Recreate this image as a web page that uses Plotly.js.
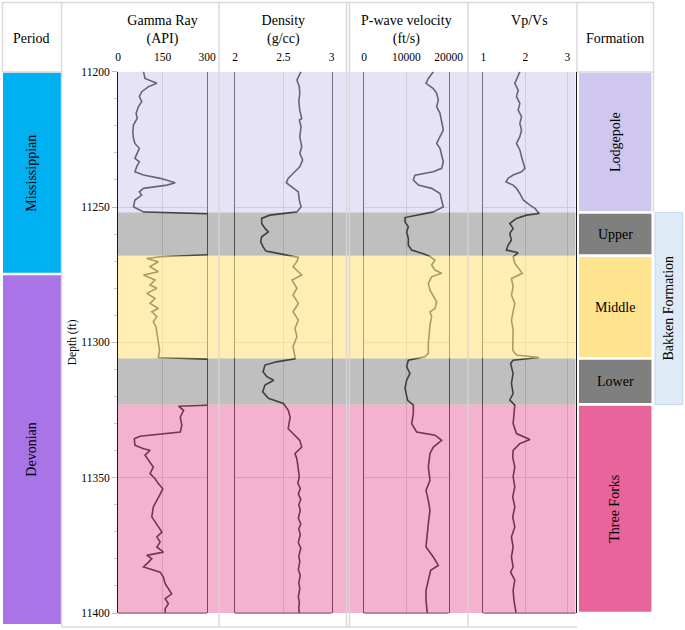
<!DOCTYPE html>
<html><head><meta charset="utf-8">
<script src="https://cdn.plot.ly/plotly-3.0.1.min.js"></script>
<style>html,body{margin:0;padding:0;background:#fff;}#chart{width:685px;height:630px;}</style>
</head><body><div id="chart"></div>
<script>
// ---------------- DATA ----------------
const grDepth = [11200, 11202.5, 11204.3, 11205.5, 11207.4, 11209.2, 11211.1, 11212.9, 11215.4, 11217.2, 11219.7, 11222.2, 11224.6, 11226.5, 11228.3, 11230.2, 11232, 11233.3, 11235.1, 11237, 11238.2, 11239.4, 11241, 11241.9, 11243.1, 11244.4, 11245.6, 11247.4, 11249.9, 11251.8, 11252.6, 11260, 11267.5, 11268.4, 11269, 11270.2, 11272, 11273.9, 11275.1, 11277, 11278.8, 11280, 11281.9, 11283.8, 11285.6, 11287.5, 11288.7, 11290.5, 11292.4, 11294.2, 11296.7, 11299.2, 11302.9, 11305.6, 11306.3, 11315, 11323.1, 11323.6, 11325.1, 11327.6, 11330.6, 11333.1, 11333.7, 11334.7, 11335.6, 11338, 11339.3, 11339.9, 11341.7, 11343.6, 11346.1, 11348.5, 11350.4, 11352.2, 11354.1, 11356.5, 11358.4, 11360.8, 11364.5, 11368.2, 11370.1, 11371.9, 11373.8, 11375.6, 11377.5, 11378.7, 11379.9, 11381.2, 11383, 11384.9, 11386.7, 11389.2, 11391, 11392.9, 11394.7, 11396.6, 11398.4, 11400];
const grValues = [86, 91, 131, 103, 80, 72, 80, 69, 61, 65, 52, 50, 52, 57, 72, 63, 57, 72, 63, 57, 86, 142, 193, 165, 86, 72, 80, 57, 52, 86, 330, 330, 330, 142, 97, 136, 108, 136, 86, 125, 108, 131, 97, 125, 108, 136, 114, 131, 119, 128, 131, 133, 140, 136, 330, 330, 330, 204, 221, 210, 215, 210, 165, 74, 55, 57, 86, 108, 91, 103, 119, 108, 125, 136, 151, 140, 131, 119, 114, 136, 148, 131, 142, 131, 153, 97, 114, 103, 86, 142, 153, 159, 170, 181, 159, 170, 159, 159];

const rhoDepth = [11200, 11203.1, 11205.5, 11208, 11211, 11214.2, 11217.3, 11217.9, 11220.3, 11224, 11227.7, 11230.2, 11232.6, 11235.1, 11237.6, 11239.4, 11241, 11242.5, 11244.4, 11247.4, 11249.9, 11251.8, 11253, 11254.2, 11256.1, 11257.9, 11259.2, 11261, 11262.8, 11264.7, 11266.3, 11267.3, 11268.6, 11270.2, 11272, 11275.1, 11277, 11280, 11282.5, 11285.6, 11288.7, 11291.8, 11294.9, 11297.9, 11301.6, 11305.3, 11306.1, 11307.2, 11308.4, 11310.9, 11312.7, 11314, 11315.8, 11318.3, 11320.7, 11322.6, 11325, 11327.6, 11331.9, 11333.7, 11336.2, 11338.7, 11341.1, 11343, 11346.1, 11349.7, 11352, 11354, 11356, 11358, 11360, 11362, 11365, 11367, 11369, 11371, 11374, 11376, 11379, 11381, 11384, 11386, 11389, 11391, 11394, 11396, 11398, 11400];
const rhoValues = [2.683, 2.64, 2.665, 2.67, 2.66, 2.67, 2.69, 2.665, 2.683, 2.67, 2.69, 2.67, 2.70, 2.67, 2.60, 2.55, 2.53, 2.59, 2.655, 2.665, 2.683, 2.64, 2.36, 2.276, 2.276, 2.31, 2.345, 2.276, 2.266, 2.29, 2.32, 2.47, 2.655, 2.64, 2.60, 2.69, 2.59, 2.64, 2.60, 2.655, 2.60, 2.655, 2.62, 2.64, 2.60, 2.62, 2.62, 2.43, 2.31, 2.29, 2.33, 2.40, 2.31, 2.286, 2.345, 2.50, 2.55, 2.57, 2.55, 2.60, 2.67, 2.69, 2.62, 2.64, 2.655, 2.665, 2.65, 2.675, 2.655, 2.68, 2.66, 2.675, 2.655, 2.68, 2.66, 2.675, 2.655, 2.68, 2.66, 2.67, 2.655, 2.675, 2.66, 2.67, 2.655, 2.665, 2.66, 2.665];

const vpDepth = [11200, 11202.5, 11204.3, 11206.2, 11208, 11210.5, 11212.9, 11215.4, 11218.5, 11221.6, 11224, 11226.5, 11228.3, 11230.8, 11233.3, 11235.7, 11237, 11238.2, 11240, 11241.9, 11243.1, 11245, 11247.4, 11249.9, 11251.8, 11253, 11253.9, 11255.5, 11257.3, 11259.2, 11261.6, 11264.1, 11265.9, 11267.3, 11268.3, 11269.6, 11271.4, 11273.3, 11274.5, 11275.8, 11278.2, 11280.7, 11283.1, 11285, 11287.5, 11288.7, 11290.5, 11293.6, 11296.7, 11300.4, 11304.1, 11305.3, 11306.6, 11309, 11311.5, 11314, 11317, 11320.1, 11321.4, 11322.6, 11323.2, 11326.3, 11330, 11333.1, 11334.3, 11336.2, 11338.7, 11341.1, 11346.1, 11351, 11354.7, 11358.4, 11362.1, 11367, 11371.9, 11375.6, 11379.3, 11382.4, 11384.2, 11387.9, 11391.6, 11395.3, 11400];
const vpValues = [16370, 15190, 14640, 16370, 17155, 17550, 17155, 17940, 18340, 18730, 17940, 17155, 17940, 18340, 18730, 18340, 16370, 12040, 11650, 12830, 15975, 17940, 18340, 18730, 16370, 12430, 9680, 9680, 10470, 10070, 10470, 10470, 11250, 14000, 15600, 16760, 15975, 16760, 18340, 15975, 15190, 15580, 16370, 17155, 16760, 15580, 15975, 15580, 15420, 15190, 15190, 14400, 10470, 10070, 10860, 10070, 9680, 10070, 10300, 11250, 11650, 11650, 11254, 12430, 16760, 18340, 16370, 15580, 15190, 15580, 14640, 15190, 15580, 15190, 14950, 14640, 16370, 17550, 15740, 15190, 14640, 14640, 14950];

const vpvsDepth = [11200, 11202.5, 11204.3, 11206.8, 11209.2, 11211.7, 11214.2, 11216.6, 11219.1, 11221.6, 11224, 11226.5, 11228.9, 11231.4, 11233.9, 11235.7, 11237, 11238.2, 11239.4, 11240.7, 11241.9, 11243.1, 11245, 11247.4, 11249.3, 11250.5, 11252.4, 11253, 11254.2, 11256.1, 11257.9, 11259.8, 11262.2, 11264.1, 11265.9, 11266.9, 11268.4, 11270.8, 11274.5, 11276.4, 11279.5, 11282.5, 11285.6, 11288.7, 11291.8, 11295.5, 11299.2, 11302.9, 11304.7, 11305.6, 11306.6, 11307.8, 11311.5, 11315.2, 11318.9, 11321.3, 11323.2, 11326.3, 11330, 11333.7, 11335.9, 11337.4, 11339.9, 11342.4, 11346.1, 11349.7, 11353.4, 11357.1, 11360.8, 11364.5, 11368.2, 11371.9, 11375.6, 11379.3, 11383, 11384.9, 11387.9, 11391.6, 11395.3, 11400];
const vpvsValues = [1.87, 1.79, 1.75, 1.83, 1.79, 1.87, 1.83, 1.91, 1.87, 1.91, 1.87, 1.79, 1.87, 1.91, 1.95, 1.99, 1.91, 1.71, 1.59, 1.54, 1.71, 1.79, 1.87, 1.95, 2.11, 2.23, 2.33, 2.03, 1.79, 1.63, 1.71, 1.63, 1.67, 1.59, 1.55, 1.83, 1.71, 1.75, 1.93, 1.67, 1.71, 1.67, 1.75, 1.71, 1.67, 1.71, 1.70, 1.70, 1.79, 2.33, 1.71, 1.65, 1.71, 1.67, 1.71, 1.63, 1.75, 1.73, 1.71, 1.79, 2.11, 1.87, 1.71, 1.70, 1.75, 1.71, 1.75, 1.70, 1.75, 1.70, 1.75, 1.67, 1.71, 1.67, 1.71, 1.65, 1.75, 1.71, 1.73, 1.78];

const trackTitles = ['Gamma Ray<br>(API)', 'Density<br>(g/cc)', 'P-wave velocity<br>(ft/s)', 'Vp/Vs'];
const grTicks = [0, 150, 300];
const rhoTicks = [2, 2.5, 3];
const vpTicks = [0, 10000, 20000];
const vpvsTicks = [1, 2, 3];
const depthTicks = [11200, 11250, 11300, 11350, 11400];

const formationNames = ['Lodgepole', 'Upper', 'Middle', 'Lower', 'Three Forks'];
const formationTops = [11200, 11252, 11268, 11306, 11323];
const formationBases = [11252, 11268, 11306, 11323, 11400];
const bakkenName = 'Bakken Formation';
const periodNames = ['Mississippian', 'Devonian'];

// ---------------- STYLE / LAYOUT ----------------
const W = 685, H = 630;
const PX = x => x / W, PY = y => 1 - y / H;
const serif = '"Liberation Serif", "Times New Roman", Times, serif';
const formationColors = ['#CFC7EE', '#7F7F7F', '#FFE48F', '#7F7F7F', '#E8659B'];
const bandOpacity = [0.5, 0.5, 0.68, 0.5, 0.5];
const formationRotate = [-90, 0, 0, 0, -90];
const periodColors = ['#00B0F0', '#A874E6'];
const periodPix = [[72.7, 272.7], [275.3, 624]];

const trackPix = [[118, 207], [235, 331.7], [364, 448.7], [483.3, 575.5]];
const ranges = [[0, 300], [2, 3], [0, 20000], [1, 3.195]];
const ticksets = [grTicks, rhoTicks, vpTicks, vpvsTicks];
const titleStandoff = [4, 4, 4, 22];
const yDomain = [PY(613), PY(71.7)];

const curveLine = {color: '#000', width: 1.6};
const series = [[grValues, grDepth, 'Gamma Ray'], [rhoValues, rhoDepth, 'Density'], [vpValues, vpDepth, 'P-wave velocity'], [vpvsValues, vpvsDepth, 'Vp/Vs']];
const traces = series.map((s, i) => ({
  type: 'scatter', mode: 'lines', x: s[0], y: s[1], name: s[2],
  xaxis: i ? 'x' + (i + 1) : 'x', yaxis: i ? 'y' + (i + 1) : 'y',
  line: curveLine, hoverinfo: 'skip', showlegend: false
}));

const layout = {
  width: W, height: H, margin: {l: 0, r: 0, t: 0, b: 0},
  paper_bgcolor: '#fff', plot_bgcolor: 'rgba(0,0,0,0)',
  font: {family: serif, color: '#000', size: 12},
  showlegend: false, shapes: [], annotations: []
};

trackPix.forEach((p, i) => {
  const xs = i ? 'xaxis' + (i + 1) : 'xaxis';
  const ys = i ? 'yaxis' + (i + 1) : 'yaxis';
  layout[xs] = {
    domain: [PX(p[0]), PX(p[1])], range: ranges[i], anchor: i ? 'y' + (i + 1) : 'y',
    side: 'top', tickmode: 'array', tickvals: ticksets[i], ticktext: ticksets[i].map(String),
    ticks: '', ticklabelstandoff: 7, showline: false, zeroline: false, showgrid: true, gridcolor: '#d0d0d0', gridwidth: 1,
    tickfont: {family: serif, size: 11.5, color: '#000'},
    title: {text: trackTitles[i], font: {family: serif, size: 14, color: '#000'}, standoff: titleStandoff[i]},
    fixedrange: true
  };
  const ya = {
    domain: yDomain, range: [11400, 11200], anchor: i ? 'x' + (i + 1) : 'x',
    showline: true, mirror: true, linecolor: '#1a1a1a', linewidth: 1,
    showgrid: true, gridcolor: '#d0d0d0', zeroline: false, fixedrange: true,
    tickmode: 'array', tickvals: depthTicks, ticktext: depthTicks.map(String)
  };
  if (i === 0) {
    Object.assign(ya, {
      ticks: 'outside', ticklen: 5, tickcolor: '#bdbdbd', tickwidth: 1,
      tickfont: {family: serif, size: 11.5, color: '#000'},
      minor: {tickmode: 'linear', tick0: 11200, dtick: 10, ticks: 'outside', ticklen: 3, tickcolor: '#c8c8c8', showgrid: false},
      title: {text: 'Depth (ft)', font: {family: serif, size: 11.5, color: '#000'}, standoff: 2}
    });
  } else {
    Object.assign(ya, {matches: 'y', showticklabels: false, ticks: ''});
  }
  layout[ys] = ya;
  layout.shapes.push({type: 'line', layer: 'above', xref: (i ? 'x' + (i + 1) : 'x') + ' domain', x0: 0, x1: 1,
    yref: 'paper', y0: yDomain[0], y1: yDomain[0], line: {color: '#333', width: 1}});
});

// translucent formation bands across the log tracks
formationNames.forEach((n, i) => {
  layout.shapes.push({type: 'rect', layer: 'above', xref: 'paper', x0: PX(118), x1: PX(575.5),
    yref: 'y', y0: formationTops[i], y1: formationBases[i], fillcolor: formationColors[i], opacity: bandOpacity[i], line: {width: 0}});
});

// table grid lines
const gridCol = 'rgba(214,214,214,0.9)';
const vLines = [[2.5, 2, 72], [61.5, 2, 627], [219, 2, 627], [346.5, 2, 627], [349.5, 2, 627], [468, 2, 627], [577, 2, 72], [653.5, 2, 212]];
const hLines = [[2.5, 2.5, 654], [72, 2.5, 61.5], [72, 577, 653.5], [627, 61.5, 577]];
vLines.forEach(v => layout.shapes.push({type: 'line', layer: 'above', xref: 'paper', yref: 'paper', x0: PX(v[0]), x1: PX(v[0]), y0: PY(v[1]), y1: PY(v[2]), line: {color: gridCol, width: 1.5}}));
hLines.forEach(h => layout.shapes.push({type: 'line', layer: 'above', xref: 'paper', yref: 'paper', x0: PX(h[1]), x1: PX(h[2]), y0: PY(h[0]), y1: PY(h[0]), line: {color: gridCol, width: 1.5}}));

// period column
periodNames.forEach((n, i) => {
  const r = periodPix[i];
  layout.shapes.push({type: 'rect', layer: 'below', xref: 'paper', yref: 'paper', x0: PX(3), x1: PX(61), y0: PY(r[1]), y1: PY(r[0]), fillcolor: periodColors[i], line: {width: 0}});
  layout.annotations.push({text: n, xref: 'paper', yref: 'paper', x: PX(32), y: PY((r[0] + r[1]) / 2), showarrow: false, textangle: -90, font: {family: serif, size: 14, color: '#000'}, xanchor: 'center', yanchor: 'middle'});
});

// formation column
formationNames.forEach((n, i) => {
  layout.shapes.push({type: 'rect', layer: 'below', xref: 'paper', x0: PX(577.7), x1: PX(652.7), yref: 'y', y0: formationTops[i], y1: formationBases[i], fillcolor: formationColors[i], line: {color: '#fff', width: 2.5}});
  layout.annotations.push({text: n, xref: 'paper', x: PX(615), yref: 'y', y: (formationTops[i] + formationBases[i]) / 2, showarrow: false, textangle: formationRotate[i], font: {family: serif, size: 14, color: '#000'}, xanchor: 'center', yanchor: 'middle'});
});
layout.shapes.push({type: 'rect', layer: 'below', xref: 'paper', x0: PX(655), x1: PX(682.7), yref: 'y', y0: formationTops[1], y1: formationBases[3], fillcolor: '#DEEBF7', line: {color: '#C5D7EC', width: 1}});
layout.annotations.push({text: bakkenName, xref: 'paper', x: PX(669), yref: 'y', y: (formationTops[1] + formationBases[3]) / 2, showarrow: false, textangle: -90, font: {family: serif, size: 14, color: '#000'}, xanchor: 'center', yanchor: 'middle'});

// header labels
layout.annotations.push({text: 'Period', xref: 'paper', yref: 'paper', x: PX(31), y: PY(38), showarrow: false, font: {family: serif, size: 14, color: '#000'}, xanchor: 'center', yanchor: 'middle'});
layout.annotations.push({text: 'Formation', xref: 'paper', yref: 'paper', x: PX(615), y: PY(38), showarrow: false, font: {family: serif, size: 14, color: '#000'}, xanchor: 'center', yanchor: 'middle'});

Plotly.newPlot('chart', traces, layout, {staticPlot: true, displayModeBar: false});
</script>
</body></html>
